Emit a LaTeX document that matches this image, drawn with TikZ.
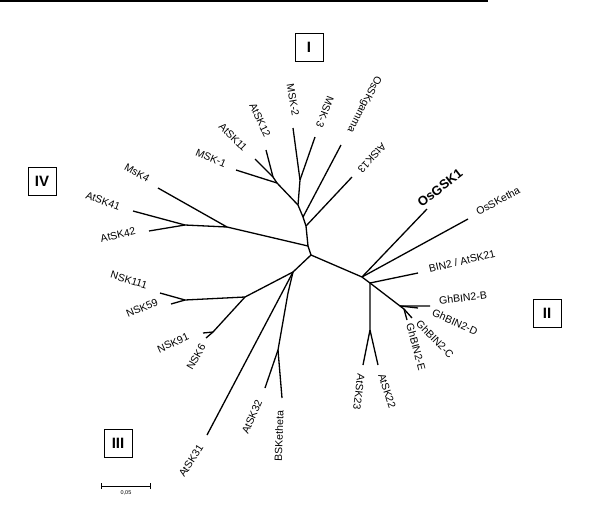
\documentclass[tikz,border=0pt]{standalone}
\usepackage{fontspec}
\setmainfont{Liberation Sans}
\begin{document}
\begin{tikzpicture}[x=1pt,y=-1pt,
  br/.style={line width=1.3pt},
  lb/.style={font=\fontsize{10.5}{11}\selectfont, inner sep=0pt},
  box/.style={draw, line width=0.9pt, minimum width=28pt, minimum height=28pt, font=\fontsize{15}{16}\selectfont\bfseries}]
\useasboundingbox (0,0) rectangle (608,504);
\draw[line width=2pt] (0,1) -- (488,1);
% internal nodes
\coordinate (A) at (308,246);
\coordinate (B) at (311,255);
\coordinate (I1) at (306,226);
\coordinate (I2) at (303,217);
\coordinate (I3) at (298,205);
\coordinate (I4) at (300,180);
\coordinate (I5) at (277,183);
\coordinate (I6) at (273,177);
\coordinate (IV1) at (227,227);
\coordinate (IV2) at (185,225);
\coordinate (II1) at (362,277);
\coordinate (II2) at (370,283);
\coordinate (II3) at (370,330);
\coordinate (II4) at (400,306);
\coordinate (II5) at (404,309);
\coordinate (III1) at (293,272);
\coordinate (III2) at (245,297);
\coordinate (III3) at (185,300);
\coordinate (III4) at (213,332);
\coordinate (III5) at (288,293);
\coordinate (III6) at (278,350);
% tips
\coordinate (tMSK1) at (236,170);
\coordinate (tAtSK11) at (255,159);
\coordinate (tAtSK12) at (266,150);
\coordinate (tMSK2) at (293,128);
\coordinate (tMSK3) at (315,137);
\coordinate (tOsSKg) at (341,145);
\coordinate (tAtSK13) at (352,177);
\coordinate (tMsK4) at (158,188);
\coordinate (tAtSK41) at (133,211);
\coordinate (tAtSK42) at (149,231);
\coordinate (tOsGSK1) at (427,209);
\coordinate (tOsSKe) at (468,219);
\coordinate (tBIN2) at (418,273);
\coordinate (tGhB) at (430,306);
\coordinate (tGhD) at (418,308);
\coordinate (tGhC) at (412,318);
\coordinate (tGhE) at (407,320);
\coordinate (tAtSK23) at (363,365);
\coordinate (tAtSK22) at (378,365);
\coordinate (tNSK111) at (160,293);
\coordinate (tNSK59) at (171,304);
\coordinate (tNSK91) at (203,333);
\coordinate (tNSK6) at (206,338);
\coordinate (tAtSK31) at (207,435);
\coordinate (tAtSK32) at (265,388);
\coordinate (tBSK) at (282,398);
% branches
\draw[br] (B) -- (A);
\draw[br] (A) -- (IV1) -- (IV2);
\draw[br] (IV1) -- (tMsK4);
\draw[br] (IV2) -- (tAtSK41);
\draw[br] (IV2) -- (tAtSK42);
\draw[br] (A) -- (I1) -- (I2) -- (I3) -- (I4) -- (tMSK2);
\draw[br] (I4) -- (tMSK3);
\draw[br] (I1) -- (tAtSK13);
\draw[br] (I2) -- (tOsSKg);
\draw[br] (I3) -- (I5) -- (tMSK1);
\draw[br] (I5) -- (I6) -- (tAtSK11);
\draw[br] (I6) -- (tAtSK12);
\draw[br] (B) -- (II1) -- (tOsGSK1);
\draw[br] (II1) -- (tOsSKe);
\draw[br] (II1) -- (II2) -- (tBIN2);
\draw[br] (II2) -- (II3) -- (tAtSK23);
\draw[br] (II3) -- (tAtSK22);
\draw[br] (II2) -- (II4) -- (tGhB);
\draw[br] (II4) -- (tGhD);
\draw[br] (II4) -- (II5) -- (tGhC);
\draw[br] (II5) -- (tGhE);
\draw[br] (B) -- (III1) -- (tAtSK31);
\draw[br] (III1) -- (III2) -- (III3) -- (tNSK111);
\draw[br] (III3) -- (tNSK59);
\draw[br] (III2) -- (III4) -- (tNSK91);
\draw[br] (III4) -- (tNSK6);
\draw[br] (III1) -- (III5) -- (III6) -- (tAtSK32);
\draw[br] (III6) -- (tBSK);
% labels
\node[lb, rotate=-23] (lMSK1) at (211,158) {MSK-1};
\node[lb, rotate=-45] (lAtSK11) at (233,137) {AtSK11};
\node[lb, rotate=-65] (lAtSK12) at (260,120) {AtSK12};
\node[lb, rotate=-80] (lMSK2) at (293,100) {MSK-2};
\node[lb, rotate=-111] (lMSK3) at (325,112) {MSK-3};
\node[lb, rotate=-117] (lOsSKg) at (364,104) {OsSKgamma};
\node[lb, rotate=-133] (lAtSK13) at (372,158) {AtSK13};
\node[lb, rotate=-30] (lMsK4) at (137,173) {MsK4};
\node[lb, rotate=-20] (lAtSK41) at (103,201) {AtSK41};
\node[lb, rotate=13] (lAtSK42) at (118,235) {AtSK42};
\node[inner sep=0pt, rotate=38, font=\fontsize{13}{14}\selectfont\bfseries] (lOsGSK1) at (440,188) {OsGSK1};
\node[lb, rotate=28] (lOsSKe) at (498,201) {OsSKetha};
\node[lb, rotate=13] (lBIN2) at (462,261) {BIN2 / AtSK21};
\node[lb, rotate=7] (lGhB) at (463,298) {GhBIN2-B};
\node[lb, rotate=-24] (lGhD) at (455,322) {GhBIN2-D};
\node[lb, rotate=-46] (lGhC) at (435,339) {GhBIN2-C};
\node[lb, rotate=-75] (lGhE) at (416,347) {GhBIN2-E};
\node[lb, rotate=-97] (lAtSK23) at (359,392) {AtSK23};
\node[lb, rotate=-72] (lAtSK22) at (387,391) {AtSK22};
\node[lb, rotate=-17] (lNSK111) at (129,280) {NSK111};
\node[lb, rotate=23] (lNSK59) at (142,308) {NSK59};
\node[lb, rotate=24] (lNSK91) at (173,343) {NSK91};
\node[lb, rotate=60] (lNSK6) at (196,357) {NSK6};
\node[lb, rotate=57] (lAtSK31) at (191,461) {AtSK31};
\node[lb, rotate=66] (lAtSK32) at (252,417) {AtSK32};
\node[lb, rotate=88] (lBSK) at (279,436) {BSKetheta};
% clade boxes
\node[box] (bI) at (309,47) {I};
\node[box] (bII) at (547,313) {II};
\node[box] (bIII) at (118,443) {III};
\node[box] (bIV) at (42,181) {IV};
% scale bar
\coordinate (s1) at (101,486);
\coordinate (s2) at (150,486);
\draw[line width=1pt] (s1) -- (s2);
\draw[line width=1pt] ([yshift=-3pt]s1) -- ([yshift=3pt]s1);
\draw[line width=1pt] ([yshift=-3pt]s2) -- ([yshift=3pt]s2);
\node[font=\fontsize{5.5}{6}\selectfont, inner sep=0pt] (sl) at (126,493) {0,05};
\end{tikzpicture}
\end{document}
